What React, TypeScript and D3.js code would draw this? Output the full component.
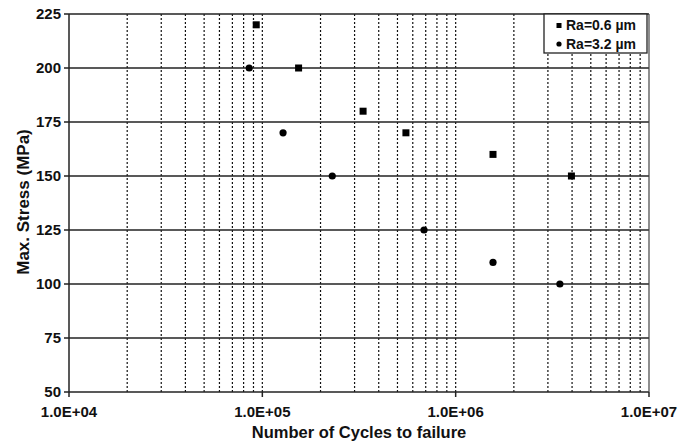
import React from 'react';
import * as d3 from 'd3';

const seriesNames = ['Ra=0.6 \u00b5m', 'Ra=3.2 \u00b5m'];
const cyclesRa06 = [9.3e4, 1.54e5, 3.32e5, 5.53e5, 1.56e6, 3.97e6];
const stressRa06 = [220, 200, 180, 170, 160, 150];
const cyclesRa32 = [8.55e4, 1.28e5, 2.3e5, 6.86e5, 1.56e6, 3.46e6];
const stressRa32 = [200, 170, 150, 125, 110, 100];
const yTicks = [50, 75, 100, 125, 150, 175, 200, 225];
const xTicks = [1e4, 1e5, 1e6, 1e7];

const W = 681;
const H = 443;
const margin = { top: 14, right: 32, bottom: 51, left: 69 };

const App = () => {
  const width = W - margin.left - margin.right;
  const height = H - margin.top - margin.bottom;

  const x = d3.scaleLog().domain([1e4, 1e7]).range([0, width]);
  const y = d3.scaleLinear().domain([50, 225]).range([height, 0]);

  // minor grid lines 2..9 in every decade
  const minor: number[] = [];
  for (let d = 4; d < 7; d++) {
    for (let k = 2; k <= 9; k++) minor.push(k * Math.pow(10, d));
  }

  const fmt = (v: number) => v.toExponential(1).toUpperCase().replace('E+', 'E+0');

  const s1 = cyclesRa06.map((c, i) => ({ c, s: stressRa06[i] }));
  const s2 = cyclesRa32.map((c, i) => ({ c, s: stressRa32[i] }));

  const font = 'Liberation Sans, Arial, sans-serif';

  return (
    <svg width={W} height={H} style={{ position: 'absolute', left: 0, top: 0, background: '#fff' }}>
      <g transform={`translate(${margin.left},${margin.top})`} fontFamily={font} fontWeight="bold">
        {/* dotted vertical grid */}
        {[...minor, 1e5, 1e6].map((v) => (
          <line key={'v' + v} x1={x(v)} x2={x(v)} y1={0} y2={height}
            stroke="#111" strokeWidth={1.2} strokeDasharray="2,2" />
        ))}
        {/* horizontal grid */}
        {yTicks.map((t) => (
          <line key={'h' + t} x1={-5} x2={width} y1={y(t)} y2={y(t)} stroke="#222" strokeWidth={1.5} />
        ))}
        {/* right border */}
        <line x1={width} x2={width} y1={0} y2={height} stroke="#444" strokeWidth={1.2} />
        {/* left axis */}
        <line x1={0} x2={0} y1={0} y2={height} stroke="#222" strokeWidth={1.5} />
        {yTicks.map((t) => (
          <text key={'yt' + t} x={-8} y={y(t)} dy="0.35em" textAnchor="end" fontSize={15} fill="#111">
            {t}
          </text>
        ))}
        {/* x tick marks and labels */}
        {xTicks.map((t) => (
          <g key={'xt' + t}>
            <line x1={x(t)} x2={x(t)} y1={height} y2={height + 5} stroke="#222" strokeWidth={1.5} />
            <text x={x(t)} y={height + 25} textAnchor="middle" fontSize={15} fill="#111">
              {fmt(t)}
            </text>
          </g>
        ))}
        {/* points */}
        {s1.map((d, i) => (
          <rect key={'a' + i} x={x(d.c) - 3.5} y={y(d.s) - 3.5} width={7} height={7} fill="#000" />
        ))}
        {s2.map((d, i) => (
          <circle key={'b' + i} cx={x(d.c)} cy={y(d.s)} r={3.6} fill="#000" />
        ))}
        {/* legend */}
        <g transform={`translate(${width - 105},0)`}>
          <rect x={0} y={0} width={103} height={39} fill="#fff" stroke="#222" strokeWidth={1.3} />
          <rect x={12.5} y={9} width={5} height={5} fill="#000" />
          <text x={22} y={11.5} dy="0.35em" fontSize={14} fill="#111">{seriesNames[0]}</text>
          <circle cx={15} cy={30} r={2.6} fill="#000" />
          <text x={22} y={30} dy="0.35em" fontSize={14} fill="#111">{seriesNames[1]}</text>
        </g>
        {/* axis titles */}
        <text x={width / 2} y={height + 46} textAnchor="middle" fontSize={16.5} fill="#111">
          Number of Cycles to failure
        </text>
        <text transform={`translate(${-40},${188}) rotate(-90)`} textAnchor="middle" fontSize={17} fill="#111">
          Max. Stress (MPa)
        </text>
      </g>
    </svg>
  );
};

export default App;
